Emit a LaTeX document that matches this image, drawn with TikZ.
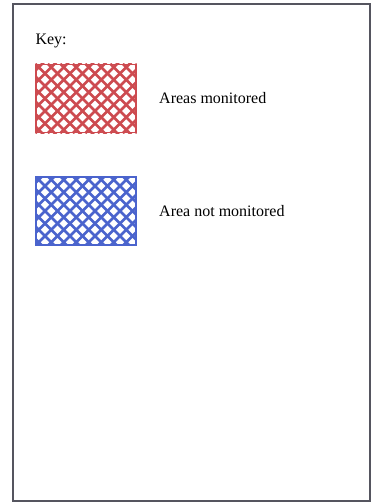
\documentclass[tikz,border=0pt]{standalone}
\usepackage{fontspec}
\setmainfont{Liberation Serif}
\usetikzlibrary{positioning}
\definecolor{monred}{RGB}{205,75,80}
\definecolor{monblue}{RGB}{75,100,205}
\definecolor{frame}{RGB}{85,85,95}

\begin{document}
\begin{tikzpicture}[x=1pt, y=-1pt, font=\fontsize{16}{19}\selectfont,
    keybox/.style={draw=#1, line width=1.4pt, minimum width=100pt, minimum height=68pt, inner sep=0pt},
    hatch/.style={draw=#1, line width=2.6pt}]
    \useasboundingbox (0,0) rectangle (372,503);
    \draw[frame, line width=1.6pt] (13,4) rectangle (370,501);
    \node[anchor=base west] (key) at (32,45) {Key:};
    % key boxes
    \node[keybox=monred] (mon) at (86,98.5) {};
    \node[keybox=monblue] (notmon) at (86,211) {};
    \foreach \nm/\col in {mon/monred, notmon/monblue} {
        \begin{scope}
            \clip (\nm.north west) rectangle (\nm.south east);
            \foreach \c in {-75,-62.5,...,100} {
                \draw[hatch=\col] ([xshift=\c pt]\nm.north west) -- ++(80,80);
                \draw[hatch=\col] ([xshift=\c pt]\nm.south west) -- ++(80,-80);
            }
        \end{scope}
        \node[keybox=\col] at (\nm) {};
    }
    % labels
    \node[right=19pt of mon] (monlbl) {Areas monitored};
    \node[right=19pt of notmon] (notmonlbl) {Area not monitored};
\end{tikzpicture}
\end{document}
